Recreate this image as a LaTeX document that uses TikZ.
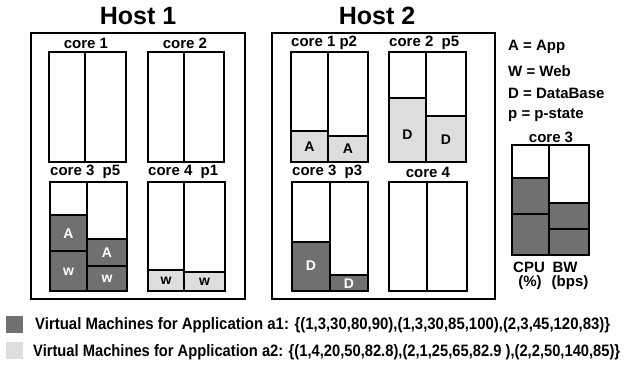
\documentclass[tikz,border=0pt]{standalone}
\usepackage{fontspec}
\usepackage{graphicx}
\setmainfont{Liberation Sans}
\definecolor{vmdark}{RGB}{112,112,112}
\definecolor{vmlight}{RGB}{221,221,221}
\tikzset{
  box/.style={draw=black, line width=1.7pt},
  darkseg/.style={draw=black, line width=1.7pt, fill=vmdark},
  lightseg/.style={draw=black, line width=1.7pt, fill=vmlight},
  lbl/.style={font=\fontsize{15}{16}\selectfont\bfseries, inner sep=0pt},
  title/.style={font=\fontsize{25}{28}\selectfont\bfseries, inner sep=0pt},
  wtxt/.style={font=\fontsize{14}{15}\selectfont\bfseries, text=white, inner sep=0pt},
  btxt/.style={font=\fontsize{14}{15}\selectfont\bfseries, text=black, inner sep=0pt},
  legtxt/.style={font=\fontsize{16.5}{18}\selectfont\bfseries, inner sep=0pt, anchor=west},
}
\begin{document}
\begin{tikzpicture}[x=1pt,y=-1pt]
\useasboundingbox (0,0) rectangle (629,367);
% titles
\node[title] (t1) at (138,16) {Host 1};
\node[title] (t2) at (377,16) {Host 2};
% host boxes
\draw[box] (31,33) rectangle (245,299);
\draw[box] (272,33) rectangle (495,299);

% ---------- Host 1 ----------
\node[lbl] (h1c1) at (86,43) {core 1};
\draw[box] (49,52) rectangle (126,162); \draw[box] (85,52) -- (85,162);
\node[lbl] (h1c2) at (185,43) {core 2};
\draw[box] (148,52) rectangle (224,162); \draw[box] (184,52) -- (184,162);

\node[lbl, anchor=west] (h1c3) at (50,172) {core 3~~p5};
\draw[darkseg] (50,215) rectangle (87,251);
\draw[darkseg] (50,251) rectangle (87,291);
\draw[darkseg] (87,239) rectangle (127,266);
\draw[darkseg] (87,266) rectangle (127,291);
\draw[box] (50,182) rectangle (127,291); \draw[box] (87,182) -- (87,291);
\node[wtxt] (h1a1) at (68.5,234) {A};
\node[wtxt] (h1w1) at (68.5,272) {w};
\node[wtxt] (h1a2) at (107,253) {A};
\node[wtxt] (h1w2) at (107,279) {w};

\node[lbl, anchor=west] (h1c4) at (148,172) {core 4~~p1};
\draw[lightseg] (148,270) rectangle (184,291);
\draw[lightseg] (184,272) rectangle (225,291);
\draw[box] (148,182) rectangle (225,291); \draw[box] (184,182) -- (184,291);
\node[btxt] (h1w3) at (166,281) {w};
\node[btxt] (h1w4) at (204.5,282) {w};

% ---------- Host 2 ----------
\node[lbl, anchor=west] (h2c1) at (291,43) {core 1 p2};
\draw[lightseg] (291,131) rectangle (328,162);
\draw[lightseg] (328,136) rectangle (368,162);
\draw[box] (291,52) rectangle (368,162); \draw[box] (328,52) -- (328,162);
\node[btxt] (h2a1) at (309.5,146.5) {A};
\node[btxt] (h2a2) at (348,149) {A};

\node[lbl, anchor=west] (h2c2) at (389,43) {core 2~~p5};
\draw[lightseg] (389,98) rectangle (426,162);
\draw[lightseg] (426,116) rectangle (466,162);
\draw[box] (389,52) rectangle (466,162); \draw[box] (426,52) -- (426,162);
\node[btxt] (h2d1) at (407.5,135) {D};
\node[btxt] (h2d2) at (446,140) {D};

\node[lbl, anchor=west] (h2c3) at (292,172) {core 3~~p3};
\draw[darkseg] (292,242) rectangle (330,291);
\draw[darkseg] (330,275) rectangle (368,291);
\draw[box] (292,182) rectangle (368,291); \draw[box] (330,182) -- (330,291);
\node[wtxt] (h2d3) at (311,266) {D};
\node[wtxt] (h2d4) at (349,283.5) {D};

\node[lbl] (h2c4) at (428,172) {core 4};
\draw[box] (389,182) rectangle (467,291); \draw[box] (427,182) -- (427,291);

% ---------- Legend ----------
\node[lbl, anchor=west] (la) at (508,47) {A = App};
\node[lbl, anchor=west] (lw) at (508,71) {W = Web};
\node[lbl, anchor=west] (ld) at (508,93) {D = DataBase};
\node[lbl, anchor=west] (lp) at (508,115) {p = p-state};
\node[lbl] (lc3) at (551,137) {core 3};
\draw[darkseg] (512,178) rectangle (549,214);
\draw[darkseg] (512,214) rectangle (549,255);
\draw[darkseg] (549,203) rectangle (589,229);
\draw[darkseg] (549,229) rectangle (589,255);
\draw[box] (512,145) rectangle (589,255); \draw[box] (549,145) -- (549,255);
\node[lbl] (lcpu) at (529,267) {CPU};
\node[lbl] (lpct) at (530,283) {(\%)};
\node[lbl] (lbw) at (565,267) {BW};
\node[lbl] (lbps) at (570,283) {(bps)};

% ---------- bottom legend ----------
\fill[vmdark] (6,316) rectangle (23,333);
\fill[vmlight] (6,342) rectangle (23,359);
\node[legtxt] (a1) at (35,325) {\resizebox{575pt}{\height}{Virtual Machines for Application a1: \{(1,3,30,80,90),(1,3,30,85,100),(2,3,45,120,83)\}}};
\node[legtxt] (a2) at (33,352) {\resizebox{587pt}{\height}{Virtual Machines for Application a2: \{(1,4,20,50,82.8),(2,1,25,65,82.9 ),(2,2,50,140,85)\}}};
\end{tikzpicture}
\end{document}
